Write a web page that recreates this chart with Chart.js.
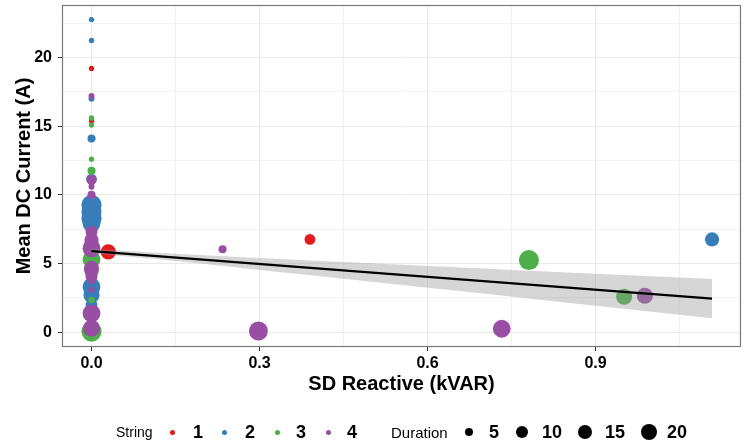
<!DOCTYPE html>
<html><head><meta charset="utf-8">
<script src="https://cdn.jsdelivr.net/npm/chart.js@4"></script>
<style>
html,body{margin:0;padding:0;background:#fff;}
#wrap{position:relative;width:745px;height:444px;overflow:hidden;}
canvas{position:absolute;left:0;top:0;}
.lg{position:absolute;font-family:"Liberation Sans",Arial,sans-serif;color:#000;white-space:nowrap;line-height:1;}
</style></head><body>
<div id="wrap"><canvas id="c" width="745" height="444"></canvas><div id="legend"></div></div>
<script>
// ---- data ----
const stringLabels = ['1', '2', '3', '4'];
const stringColors = ['#E41A1C', '#377EB8', '#4DAF4A', '#984EA3'];
const durationBreaks = [5, 10, 15, 20];

// String 1
const s1x = [0, 0, 0, 0, 0.030, 0, 0.390];
const s1y = [19.2, 15.37, 10.8, 6.5, 5.86, 0.1, 6.76];
const s1d = [2, 2, 2, 10, 16, 22, 8];
// String 2
const s2x = [0, 0, 0, 0, 0, 0, 0, 0, 0, 0, 0, 0, 1.108];
const s2y = [22.76, 21.24, 17.0, 14.1, 11.15, 9.27, 8.77, 8.29, 7.93, 3.32, 2.71, 1.99, 6.76];
const s2d = [2, 2, 2.5, 4.5, 8, 28, 28, 28, 22, 22, 18, 10, 14];
// String 3
const s3x = [0, 0, 0, 0, 0, 0, 0, 0, 0, 0.781, 0.951];
const s3y = [15.6, 15.08, 12.6, 11.76, 6.4, 5.3, 4.4, 2.35, 0.05, 5.26, 2.59];
const s3d = [2, 2, 2, 4.5, 14, 22, 14, 3, 28, 28, 18];
// String 4
const s4x = [0, 0, 0, 0, 0, 0, 0, 0, 0, 0, 0, 0, 0, 0.234, 0.298, 0.7325, 0.988];
const s4y = [17.2, 11.1, 10.6, 10.0, 7.32, 6.71, 6.11, 4.65, 4.04, 3.68, 3.08, 1.38, 0.29, 6.04, 0.1, 0.26, 2.66];
const s4d = [2.5, 7, 2.5, 4.5, 10, 14, 22, 16, 10, 2.5, 2.5, 22, 20, 4.5, 25, 22, 18];

// regression line and confidence band
const fitX = [0, 1.108];
const fitY = [5.91, 2.45];
const bandX = [0, 0.1, 0.2, 0.3, 0.4, 0.5, 0.6, 0.7, 0.8, 0.9, 1.0, 1.108];
const bandLow = [5.73, 5.38, 4.98, 4.54, 4.11, 3.68, 3.25, 2.82, 2.37, 1.94, 1.50, 1.02];
const bandHigh = [6.09, 5.82, 5.60, 5.40, 5.21, 5.02, 4.83, 4.64, 4.45, 4.26, 4.08, 3.88];

// ticks
const xMajor = [0, 0.3, 0.6, 0.9];
const xMinor = [0.15, 0.45, 0.75, 1.05];
const yMajor = [0, 5, 10, 15, 20];
const yMinor = [2.5, 7.5, 12.5, 17.5, 22.5];

// ---- styling ----
const FONT = '"Liberation Sans", Arial, sans-serif';
const rad = d => 1.9 * Math.sqrt(d);

const series = [[s1x, s1y, s1d], [s2x, s2y, s2d], [s3x, s3y, s3d], [s4x, s4y, s4d]];
const pointSets = series.map(([xs, ys, ds], k) => ({
  type: 'scatter',
  data: xs.map((x, i) => ({x: x, y: ys[i], d: ds[i]})),
  backgroundColor: stringColors[k],
  borderWidth: 0,
  pointBorderWidth: 0,
  pointRadius: c => rad(c.raw.d),
  order: 5 - k
}));

const datasets = [
  {type: 'line', data: fitX.map((x, i) => ({x: x, y: fitY[i]})), borderColor: '#000', borderWidth: 2.2,
   pointRadius: 0, fill: false, order: 0},
  {type: 'line', data: bandX.map((x, i) => ({x: x, y: bandHigh[i]})), borderWidth: 0, pointRadius: 0,
   backgroundColor: 'rgba(153,153,153,0.4)', borderColor: 'rgba(0,0,0,0)', fill: '+1', order: 1},
  {type: 'line', data: bandX.map((x, i) => ({x: x, y: bandLow[i]})), borderWidth: 0, pointRadius: 0,
   borderColor: 'rgba(0,0,0,0)', fill: false, order: 1},
  ...pointSets
];

const panelBorder = {
  id: 'panelBorder',
  afterDatasetsDraw(chart) {
    const a = chart.chartArea, ctx = chart.ctx;
    ctx.save();
    ctx.strokeStyle = '#7a7a7a';
    ctx.lineWidth = 1.2;
    ctx.strokeRect(a.left + 0.5, a.top + 0.5, a.right - a.left - 1, a.bottom - a.top - 1);
    ctx.restore();
  }
};

function axis(major, minor, fmt, titleText, titlePad, min, max, fit, tickPad) {
  return {
    type: 'linear', min: min, max: max,
    afterBuildTicks: s => { s.ticks = major.concat(minor).sort((a, b) => a - b).map(v => ({value: v})); },
    ticks: {callback: v => major.includes(v) ? fmt(v) : '', font: {family: FONT, size: 16, weight: 'bold'},
            color: '#000', padding: tickPad, maxRotation: 0, autoSkip: false},
    grid: {color: c => major.includes(c.tick.value) ? '#e9e9e9' : '#f2f2f2', lineWidth: 1,
           tickLength: 4, drawTicks: true,
           tickColor: c => major.includes(c.tick.value) ? '#333' : 'rgba(0,0,0,0)'},
    border: {display: false},
    title: {display: true, text: titleText, font: {family: FONT, size: 20, weight: 'bold'}, color: '#000',
            padding: titlePad},
    afterFit: fit
  };
}

new Chart(document.getElementById('c'), {
  data: {datasets: datasets},
  options: {
    responsive: false, animation: false, devicePixelRatio: 1, events: [],
    layout: {autoPadding: false, padding: {left: 0, right: 4, top: 5, bottom: 48}},
    plugins: {legend: {display: false}, tooltip: {enabled: false}},
    scales: {
      x: axis(xMajor, xMinor, v => v.toFixed(1), 'SD Reactive (kVAR)', {top: 0, bottom: 0}, -0.0527, 1.1597,
              s => { s.height = 49; s.paddingLeft = 0; s.paddingRight = 0; }, 3),
      y: axis(yMajor, yMinor, v => String(v), 'Mean DC Current (A)', {top: 12, bottom: 0}, -1.07, 23.82,
              s => { s.width = 62; s.paddingTop = 0; s.paddingBottom = 0; }, 6)
    }
  },
  plugins: [panelBorder]
});

// ---- legend (HTML text) ----
const lg = document.getElementById('legend');
const LY = 432;
function addText(txt, left, size, bold) {
  const e = document.createElement('div');
  e.className = 'lg';
  e.textContent = txt;
  e.style.left = left + 'px';
  e.style.top = LY + 'px';
  e.style.fontSize = size + 'px';
  e.style.fontWeight = bold ? 'bold' : 'normal';
  e.style.transform = 'translateY(-50%)';
  lg.appendChild(e);
  return e;
}
function addDot(cx, d, color) {
  const e = document.createElement('div');
  e.style.position = 'absolute';
  e.style.left = (cx - d / 2) + 'px';
  e.style.top = (LY - d / 2) + 'px';
  e.style.width = d + 'px';
  e.style.height = d + 'px';
  e.style.borderRadius = '50%';
  e.style.background = color;
  lg.appendChild(e);
}
const st = addText('String', 0, 14, false);
st.style.left = (153 - st.offsetWidth) + 'px';
const strDotX = [172, 224, 277, 328];
const strLabX = [193, 245, 296, 347];
stringLabels.forEach((s, i) => { addDot(strDotX[i], 5, stringColors[i]); addText(s, strLabX[i], 18, true); });
addText('Duration', 391, 15, false);
const durDotX = [469, 522, 585, 649];
const durLabX = [489, 542, 605, 667];
durationBreaks.forEach((b, i) => { addDot(durDotX[i], 2 * rad(b), '#000'); addText(String(b), durLabX[i], 18, true); });
</script>
</body></html>
